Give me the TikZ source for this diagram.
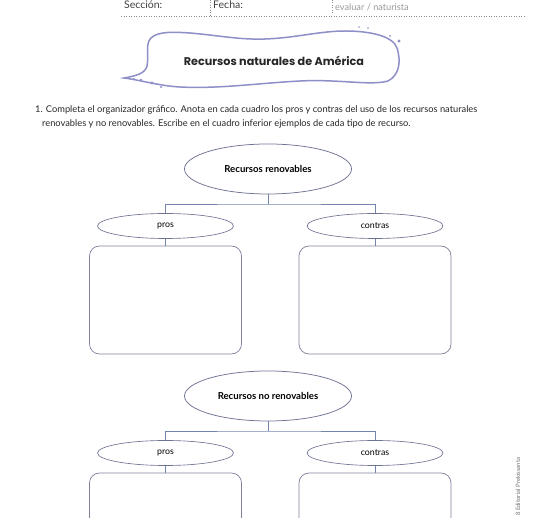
\documentclass[tikz,border=0pt]{standalone}
\usepackage{fontspec}
\setmainfont{Lato}
\newfontfamily\titlefont{Poppins}
\usetikzlibrary{shapes.geometric}
\definecolor{ellc}{HTML}{6F7393}
\definecolor{connc}{HTML}{7384AD}
\definecolor{boxc}{HTML}{80819D}
\definecolor{blobc}{HTML}{8E8FC8}
\begin{document}
\begin{tikzpicture}[x=1pt,y=-1pt,
  bigell/.style={ellipse, draw=ellc, line width=0.75pt, minimum width=167pt, minimum height=50pt, inner sep=0pt, font=\bfseries\fontsize{9.6}{11}\selectfont},
  smallell/.style={ellipse, draw=ellc, line width=0.65pt, minimum width=136pt, minimum height=25pt, inner sep=0pt, font=\fontsize{8.8}{10}\selectfont},
  answerbox/.style={draw=boxc, rounded corners=10pt, line width=0.75pt, minimum width=152pt, minimum height=108pt, inner sep=0pt},
  conn/.style={draw=connc, line width=0.85pt},
  dotline/.style={draw=black!45, line width=0.5pt, dotted},
  blob/.style={draw=blobc, line width=1.5pt, fill=white}
]
\useasboundingbox (0,0) rectangle (550,518);
\clip (0,0) rectangle (550,518);
% header
\node[anchor=base west, inner sep=0pt, font=\fontsize{10.5}{12}\selectfont, text=black!75] (sec) at (124,9) {Sección:};
\node[anchor=base west, inner sep=0pt, font=\fontsize{10.5}{12}\selectfont, text=black!75] (fec) at (213,9) {Fecha:};
\node[anchor=base west, inner sep=0pt, font=\fontsize{9.2}{10}\selectfont, text=black!40] (eva) at (335,10.5) {evaluar / naturista};
\draw[dotline] (121,16) -- (524,16);
\draw[dotline] (210,0) -- (210,16);
\draw[dotline] (332,0) -- (332,14);
% title blob
\draw[blob] (124,78) .. controls (135,76) and (145,74) .. (147,66)
 .. controls (149,55) and (145,44) .. (151,38)
 .. controls (158,31) and (175,32) .. (190,33)
 .. controls (215,35) and (240,40) .. (265,39)
 .. controls (295,38) and (320,31) .. (345,31)
 .. controls (370,31) and (393,36) .. (397,48)
 .. controls (401,60) and (400,75) .. (388,81)
 .. controls (370,86) and (340,79) .. (300,81)
 .. controls (260,83) and (220,89) .. (180,87)
 .. controls (160,86) and (140,80) .. (124,78) -- cycle;
\fill[blobc] (359,27) circle (0.8) (368,28) circle (0.9) (390,36) circle (1) (399,41) circle (1.7)
  (134,79) circle (1) (141,80) circle (1.3) (152,83) circle (1.7) (161,87) circle (1.1);
\node[font=\titlefont\bfseries\fontsize{11.2}{13}\selectfont, text=black!85] (title) at (274,61) {Recursos naturales de América};
% instructions
\node[anchor=base west, inner sep=0pt, font=\fontsize{9.3}{11}\selectfont, text=black!85] (ins1) at (35,113) {1. Completa el organizador gráfico. Anota en cada cuadro los pros y contras del uso de los recursos naturales};
\node[anchor=base west, inner sep=0pt, font=\fontsize{9.3}{11}\selectfont, text=black!85] (ins2) at (42,127) {renovables y no renovables. Escribe en el cuadro inferior ejemplos de cada tipo de recurso.};
% organizers
\foreach \dy/\n/\t in {0/a/Recursos renovables, 227/b/Recursos no renovables}{
  \node[bigell] (\n top) at (268,\dy+169) {\t};
  \node[smallell] (\n pros) at (165.5,\dy+226) {pros};
  \node[smallell] (\n con) at (375,\dy+226) {contras};
  \node[answerbox] (\n pbox) at (165.5,\dy+300) {};
  \node[answerbox] (\n cbox) at (375,\dy+300) {};
  \coordinate (\n j) at (268,\dy+204);
  \draw[conn] (\n top.south) -- (\n j);
  \draw[conn] (\n pros.north) |- (\n j) -| (\n con.north);
  \draw[conn] (\n pros.south) -- (\n pbox.north);
  \draw[conn] (\n con.south) -- (\n cbox.north);
}
% side credit
\node[rotate=90, anchor=base west, inner sep=0pt, font=\fontsize{6}{7}\selectfont, text=black!55] (credit) at (520,516) {8 Editorial Prekissanta};
\end{tikzpicture}
\end{document}
